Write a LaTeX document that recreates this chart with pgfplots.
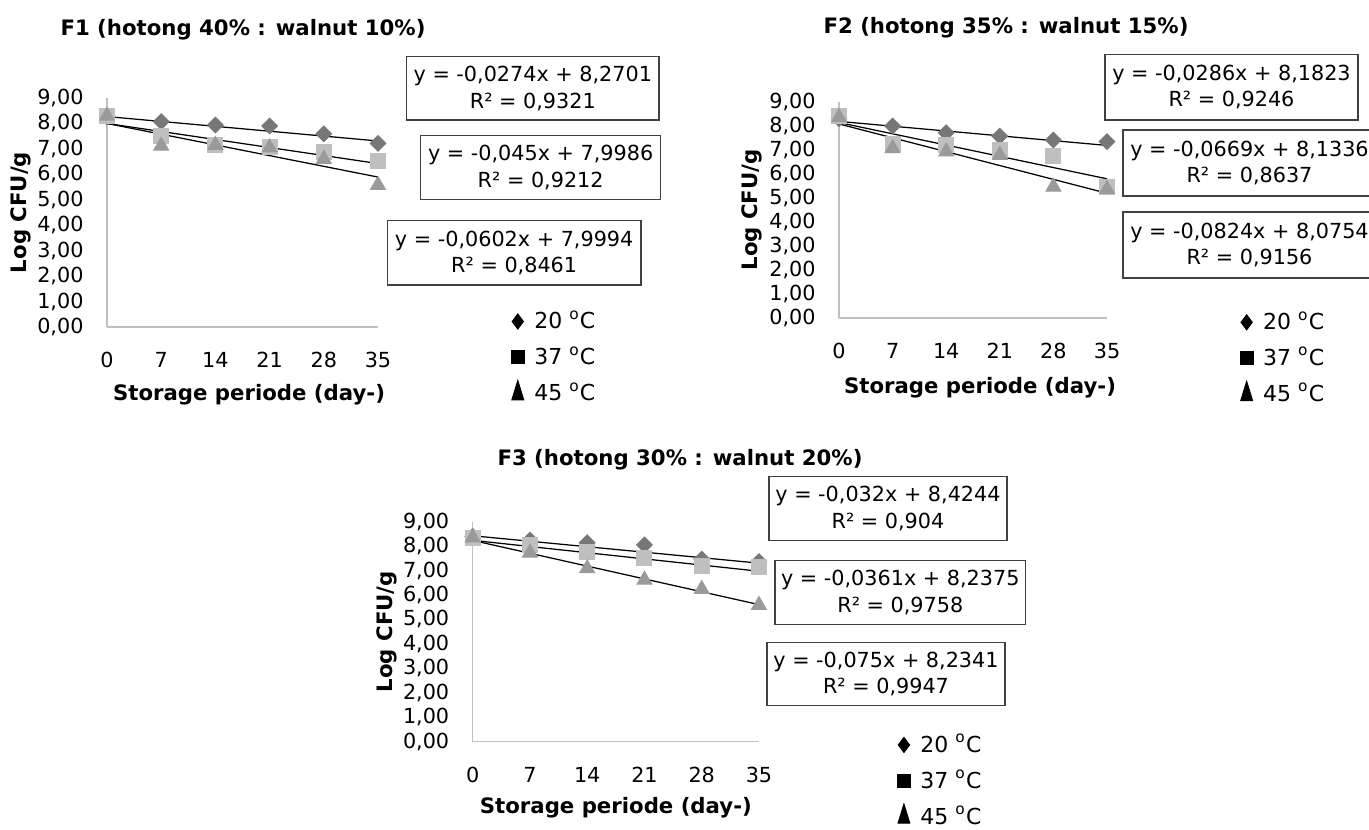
\documentclass[border=0pt]{standalone}
\usepackage{fontspec}
\setmainfont{DejaVu Sans}
\usepackage{pgfplots}
\pgfplotsset{compat=1.18}

\definecolor{cD}{HTML}{777777}
\definecolor{cS}{HTML}{BFBFBF}
\definecolor{cT}{HTML}{9A9A9A}
\definecolor{axc}{HTML}{C0C0C0}

\newcommand\fs{\fontsize{8.3pt}{10.6pt}\selectfont}
\newcommand\fl{\fontsize{8.8pt}{10.6pt}\selectfont}
\newcommand\fb{\fontsize{8.5pt}{10.6pt}\selectfont\bfseries}

\tikzset{box/.style={draw=black!75, line width=0.5pt, align=center, font=\fs, inner sep=0pt}}

\pgfplotsset{
  panel/.style={
    scale only axis, xmin=0, xmax=35, ymin=0, ymax=9,
    axis x line*=bottom, axis y line*=left,
    axis line style={draw=axc, line width=0.5pt, -},
    major tick length=0pt,
    xtick={0,7,14,21,28,35}, ytick={0,1,2,3,4,5,6,7,8,9},
    tick label style={font=\fs},
    /pgf/number format/assume math mode=true,
    yticklabel style={anchor=east, inner sep=0pt, xshift=-9.2pt,
      /pgf/number format/.cd, fixed, fixed zerofill, precision=2, use comma},
    xticklabel style={anchor=center, inner sep=0pt, yshift=-13.2pt},
    label style={font=\fb},
    clip=false,
    legend style={draw=none, fill=none, inner sep=0pt, anchor=north west,
      font=\fl, row sep=1.6pt, /tikz/every odd column/.style={column sep=2pt}},
    legend cell align=left,
    legend image code/.code={\draw[##1] plot coordinates {(0pt,0pt)};},
  },
  s20/.style={only marks, mark=square*, mark size=2.2pt,
    mark options={rotate=45, fill=cD, draw=cD}, forget plot},
  s37/.style={only marks, mark=square*, mark size=3pt,
    mark options={fill=cS, draw=cS}, forget plot},
  s45/.style={only marks, mark=triangle*, mark size=3.4pt,
    mark options={fill=cT, draw=cT}, forget plot},
  trend/.style={black, line width=0.5pt, forget plot, mark=none},
}

\newcommand\legentries{%
  \addlegendimage{black, mark=diamond*, mark size=3pt}
  \addlegendentry{20 \textsuperscript{o}C}
  \addlegendimage{black, mark=square*, mark size=2.6pt}
  \addlegendentry{37 \textsuperscript{o}C}
  \addlegendimage{black, mark=triangle*, mark size=3.2pt, mark options={xscale=0.85, yscale=1.6}}
  \addlegendentry{45 \textsuperscript{o}C}
}

\begin{document}
\begin{tikzpicture}
\useasboundingbox (0,0) rectangle (547.6pt,-331.6pt);
\clip (0,0) rectangle (547.6pt,-331.6pt);

% ---------------- F1 ----------------
\begin{axis}[panel, at={(42.8pt,-130.8pt)}, anchor=south west,
  width=108.4pt, height=91.6pt,
  xlabel={Storage periode (day-)}, ylabel={Log CFU/g},
  xlabel style={at={(axis description cs:0.5,0)}, anchor=center, yshift=-27.2pt, xshift=2.6pt},
  ylabel style={at={(axis description cs:-0.317,0.5)}, anchor=center},
  legend style={at={(axis description cs:1.49,0.096)}}]
\legentries
\addplot[s20] coordinates {(0,8.25) (7,8.07) (14,7.94) (21,7.90) (28,7.59) (35,7.22)};
\addplot[s37] coordinates {(0,8.30) (7,7.50) (14,7.15) (21,7.09) (28,6.89) (35,6.52)};
\addplot[s45] coordinates {(0,8.30) (7,7.12) (14,7.15) (21,7.05) (28,6.60) (35,5.58)};
\addplot[trend] coordinates {(0,8.2701) (35,7.3111)};
\addplot[trend] coordinates {(0,7.9986) (35,6.4236)};
\addplot[trend] coordinates {(0,7.9994) (35,5.8924)};
\end{axis}

% ---------------- F2 ----------------
\begin{axis}[panel, at={(335.6pt,-127.2pt)}, anchor=south west,
  width=107.2pt, height=86.5pt,
  xlabel={Storage periode (day-)}, ylabel={Log CFU/g},
  xlabel style={at={(axis description cs:0.5,0)}, anchor=center, yshift=-28pt, xshift=2.8pt},
  ylabel style={at={(axis description cs:-0.325,0.5)}, anchor=center},
  legend style={at={(axis description cs:1.495,0.056)}}]
\legentries
\addplot[s20] coordinates {(0,8.30) (7,7.99) (14,7.71) (21,7.57) (28,7.41) (35,7.34)};
\addplot[s37] coordinates {(0,8.40) (7,7.23) (14,7.20) (21,6.99) (28,6.74) (35,5.44)};
\addplot[s45] coordinates {(0,8.35) (7,7.06) (14,6.92) (21,6.78) (28,5.46) (35,5.36)};
\addplot[trend] coordinates {(0,8.1823) (35,7.1813)};
\addplot[trend] coordinates {(0,8.1336) (35,5.7921)};
\addplot[trend] coordinates {(0,8.0754) (35,5.1914)};
\end{axis}

% ---------------- F3 ----------------
\begin{axis}[panel, at={(189.08pt,-296.68pt)}, anchor=south west,
  width=114.5pt, height=88pt,
  xlabel={Storage periode (day-)}, ylabel={Log CFU/g},
  xlabel style={at={(axis description cs:0.5,0)}, anchor=center, yshift=-26.4pt},
  ylabel style={at={(axis description cs:-0.30,0.5)}, anchor=center},
  legend style={at={(axis description cs:1.482,0.06)}}]
\legentries
\addplot[s20] coordinates {(0,8.40) (7,8.25) (14,8.14) (21,8.05) (28,7.47) (35,7.37)};
\addplot[s37] coordinates {(0,8.35) (7,8.05) (14,7.77) (21,7.50) (28,7.19) (35,7.14)};
\addplot[s45] coordinates {(0,8.35) (7,7.73) (14,7.09) (21,6.62) (28,6.24) (35,5.59)};
\addplot[trend] coordinates {(0,8.4244) (35,7.3044)};
\addplot[trend] coordinates {(0,8.2375) (35,6.9740)};
\addplot[trend] coordinates {(0,8.2341) (35,5.6091)};
\end{axis}

\begin{scope}[x=0.4pt,y=-0.4pt]
% titles
\node[font=\fb] at (243,30) {F1 (hotong 40\% : walnut 10\%)};
\node[font=\fb] at (1006,28) {F2 (hotong 35\% : walnut 15\%)};
\node[font=\fb] at (680,460) {F3 (hotong 30\% : walnut 20\%)};
% F1 boxes
\node[box, minimum width=100.9pt, minimum height=25.3pt] at (532.85,88.35) {y = -0,0274x + 8,2701\\R² = 0,9321};
\node[box, minimum width=96pt, minimum height=25.4pt] at (540.7,167.5) {y = -0,045x + 7,9986\\R² = 0,9212};
\node[box, minimum width=101.5pt, minimum height=25.7pt] at (514.2,252.85) {y = -0,0602x + 7,9994\\R² = 0,8461};
% F2 boxes
\node[box, minimum width=101.2pt, minimum height=26.3pt] at (1231.5,87.2) {y = -0,0286x + 8,1823\\R² = 0,9246};
\node[box, overlay, minimum width=101.2pt, minimum height=26.4pt] at (1249.5,163) {y = -0,0669x + 8,1336\\R² = 0,8637};
\node[box, overlay, minimum width=101.2pt, minimum height=26.4pt] at (1249.5,245) {y = -0,0824x + 8,0754\\R² = 0,9156};
% F3 boxes
\node[box, minimum width=95.2pt, minimum height=25.6pt] at (888,508.7) {y = -0,032x + 8,4244\\R² = 0,904};
\node[box, minimum width=100.3pt, minimum height=25.4pt] at (900.3,592.5) {y = -0,0361x + 8,2375\\R² = 0,9758};
\node[box, minimum width=95.2pt, minimum height=25.4pt] at (886,674) {y = -0,075x + 8,2341\\R² = 0,9947};
\end{scope}
\end{tikzpicture}
\end{document}
